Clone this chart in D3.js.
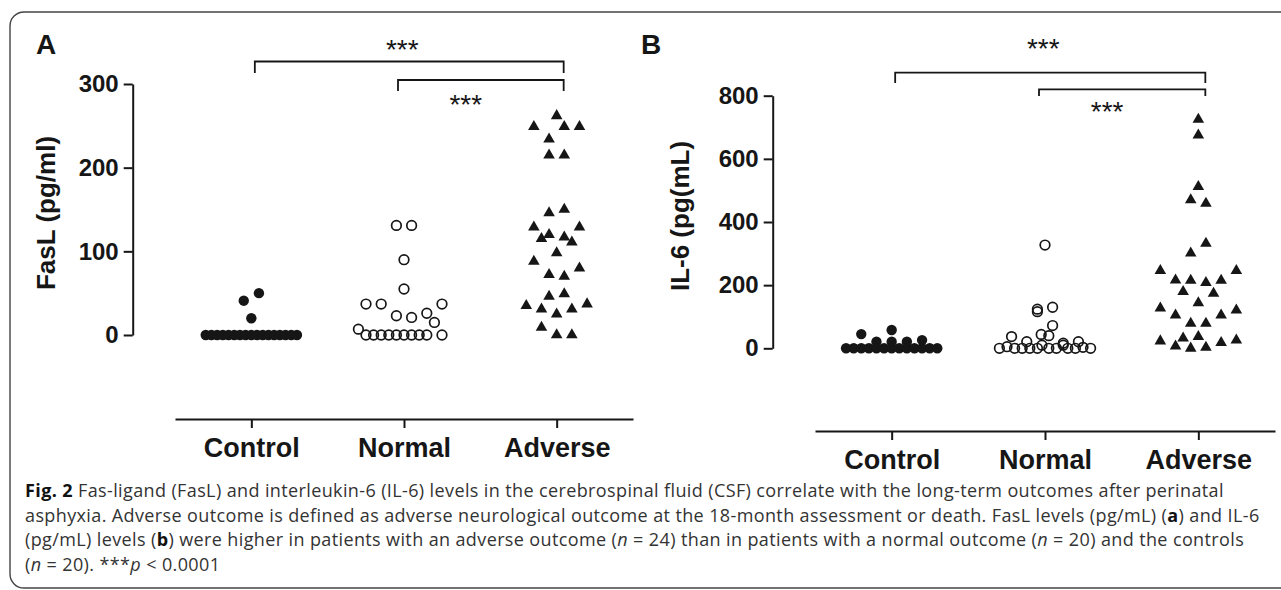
<!DOCTYPE html>
<html>
<head>
<meta charset="utf-8">
<script src="https://cdn.jsdelivr.net/npm/d3@7"></script>
<style>
  body { margin: 0; background: #fff; }
  svg text { font-family: "Liberation Sans", Arial, sans-serif; }
</style>
</head>
<body>
<svg id="fig" width="1281" height="590"></svg>
<script>
//////////////////////////////////////////////////////////////////////////////
// Data: each point is [value, column slot in the scatter]

var groups = ["Control", "Normal", "Adverse"];

var fasTicks = [0, 100, 200, 300];
var fasControl = [[50,1],[41,-1],[20,0],
    [0,-6],[0,-5.25],[0,-4.5],[0,-3.75],[0,-3],[0,-2.25],[0,-1.5],[0,-0.75],[0,0],
    [0,0.75],[0,1.5],[0,2.25],[0,3],[0,3.75],[0,4.5],[0,5.25],[0,6]];
var fasNormal = [[131,-1],[131,1],[90,0],[55,0],[37,-5],[37,-3],[37,5],[23,-1],[21,1],
    [26,3],[15,4],[7,-6],[0,-5],[0,-4],[0,-3],[0,-2],[0,-1],[0,0],[0,1],[0,2],[0,3],[0,5]];
var fasAdverse = [[262,0],[249,-3],[249,1],[249,3],[234,-1],[215,-1],[215,1],[150,1],
    [146,-1],[129,-3],[129,3],[120,-1],[115,-2],[117,1],[111,2],[98,0],[88,-3],[80,3],
    [72,-1],[70,1],[46,-1],[49,1],[35,-4],[31,-2],[25,0],[31,2],[37,4],[9,-2],[0,0],[0,2]];

var il6Ticks = [0, 200, 400, 600, 800];
var il6Control = [[45,-4],[58,0],[21,-2],[21,0],[21,2],[26,4],
    [0,-6],[0,-5],[0,-4],[0,-3],[0,-2],[0,-1],[0,0],[0,1],[0,2],[0,3],[0,4],[0,5],[0,6]];
var il6Normal = [[327,0],[130,1],[124,-1],[116,-1],[72,1],[44,-0.5],[40,0.5],[37,-4.4],
    [21,-2.4],[16,2.4],[21,4.4],[10,-0.4],[10,2.4],[5,-5],[3,5],
    [0,-6],[0,-4],[0,-3],[0,-2],[0,-1],[0,0.5],[0,1.5],[0,3],[0,4],[0,6]];
var il6Adverse = [[725,0],[675,0],[512,0],[470,-1],[459,1],[332,1],[301,-1],[246,-5],
    [246,5],[216,-3],[215,-1],[208,1],[215,3],[179,-2],[174,2],[144,0],[127,-5],[105,-3],
    [105,3],[121,5],[79,-1],[79,1],[23,-5],[32,-2],[37,0],[7,-3],[0,-1],[3,1],[18,3],[26,5]];

// significance brackets: [from, to, label]
var fasSig = [["Control", "Adverse", "***"], ["Normal", "Adverse", "***"]];
var il6Sig = [["Control", "Adverse", "***"], ["Normal", "Adverse", "***"]];

//////////////////////////////////////////////////////////////////////////////

var svg = d3.select("#fig");
var ink = "#161616";

svg.append("rect")
    .attr("x", 10).attr("y", 12)
    .attr("width", 1300).attr("height", 576)
    .attr("rx", 14)
    .attr("fill", "none")
    .attr("stroke", "#444")
    .attr("stroke-width", 1.4);

var panels = [
    { tag: "A", title: "FasL (pg/ml)", ticks: fasTicks, max: 300,
      series: [fasControl, fasNormal, fasAdverse], sig: fasSig,
      yAxisX: 132.7, yTop: 84, yBottom: 335, xLeft: 175, xRight: 633, xAxisY: 419,
      titleX: 55, titleY: 213, tagX: 36,
      sigY: [[61.5, 73, 43], [80, 91, 98]] },
    { tag: "B", title: "IL-6 (pg(mL)", ticks: il6Ticks, max: 800,
      series: [il6Control, il6Normal, il6Adverse], sig: il6Sig,
      yAxisX: 772.7, yTop: 95.7, yBottom: 348.3, xLeft: 815, xRight: 1275, xAxisY: 431,
      titleX: 689, titleY: 216, tagX: 641,
      sigY: [[72.7, 83, 42], [89.3, 96, 105]] }
];

// bracket end nudges (outer, inner) and label shift
var sigLeftNudge = [3.5, -6], sigRightNudge = 7, sigTextShift = [-7, -15];

var slot = d3.scaleLinear().domain([-1, 1]).range([-7.6, 7.6]);
var triangle = d3.symbol().type(d3.symbolTriangle).size(58);

panels.forEach(function(p) {
    var g = svg.append("g");
    var y = d3.scaleLinear().domain([0, p.max]).range([p.yBottom, p.yTop]);
    var x = d3.scalePoint().domain(groups).range([p.xLeft, p.xRight]).padding(0.5);

    // y axis
    var ya = g.append("g")
        .attr("transform", "translate(" + p.yAxisX + ",0)")
        .call(d3.axisLeft(y).tickValues(p.ticks).tickSize(9).tickSizeOuter(0).tickPadding(5));
    ya.selectAll("path, line").attr("stroke", ink).attr("stroke-width", 2);
    ya.selectAll("text")
        .attr("font-family", "Liberation Sans, Arial, sans-serif")
        .attr("font-weight", "bold").attr("font-size", 24).attr("fill", ink);

    // x axis
    var xa = g.append("g")
        .attr("transform", "translate(0," + p.xAxisY + ")")
        .call(d3.axisBottom(x).tickSize(9).tickSizeOuter(0).tickPadding(10));
    xa.selectAll("path, line").attr("stroke", ink).attr("stroke-width", 2);
    xa.selectAll("text")
        .attr("font-family", "Liberation Sans, Arial, sans-serif")
        .attr("font-weight", "bold").attr("font-size", 27).attr("fill", ink);

    // axis title
    g.append("text")
        .attr("transform", "translate(" + p.titleX + "," + p.titleY + ") rotate(-90)")
        .attr("text-anchor", "middle")
        .attr("font-weight", "bold").attr("font-size", 26).attr("fill", ink)
        .text(p.title);

    // panel tag
    g.append("text")
        .attr("x", p.tagX).attr("y", 54)
        .attr("font-weight", "bold").attr("font-size", 28).attr("fill", ink)
        .text(p.tag);

    // points
    var pts = g.append("g");
    pts.selectAll("circle.ctl")
        .data(p.series[0]).enter().append("circle")
        .attr("class", "ctl")
        .attr("cx", function(d) { return x(groups[0]) + slot(d[1]); })
        .attr("cy", function(d) { return y(d[0]); })
        .attr("r", 5.2)
        .attr("fill", ink);
    pts.selectAll("circle.nrm")
        .data(p.series[1]).enter().append("circle")
        .attr("class", "nrm")
        .attr("cx", function(d) { return x(groups[1]) + slot(d[1]); })
        .attr("cy", function(d) { return y(d[0]); })
        .attr("r", 4.8)
        .attr("fill", "none")
        .attr("stroke", ink)
        .attr("stroke-width", 1.7);
    pts.selectAll("path.adv")
        .data(p.series[2]).enter().append("path")
        .attr("class", "adv")
        .attr("d", triangle)
        .attr("transform", function(d) {
            return "translate(" + (x(groups[2]) + slot(d[1])) + "," + y(d[0]) + ")";
        })
        .attr("fill", ink);

    // significance brackets
    p.sig.forEach(function(s, i) {
        var x0 = x(s[0]) + sigLeftNudge[i], x1 = x(s[1]) + sigRightNudge;
        var lv = p.sigY[i];
        g.append("path")
            .attr("d", "M" + x0 + "," + lv[1] + "V" + lv[0] + "H" + x1 + "V" + lv[1])
            .attr("fill", "none")
            .attr("stroke", ink)
            .attr("stroke-width", 1.8);
        g.append("text")
            .attr("x", (x0 + x1) / 2 + sigTextShift[i])
            .attr("y", lv[2] + 16)
            .attr("text-anchor", "middle")
            .attr("font-size", 28).attr("fill", ink)
            .text(s[2]);
    });
});

//////////////////////////////////////////////////////////////////////////////
// caption

var capLines = [
    [["b", "Fig. 2"], ["", " Fas-ligand (FasL) and interleukin-6 (IL-6) levels in the cerebrospinal fluid (CSF) correlate with the long-term outcomes after perinatal"]],
    [["", "asphyxia. Adverse outcome is defined as adverse neurological outcome at the 18-month assessment or death. FasL levels (pg/mL) ("], ["b", "a"], ["", ") and IL-6"]],
    [["", "(pg/mL) levels ("], ["b", "b"], ["", ") were higher in patients with an adverse outcome ("], ["i", "n"], ["", " = 24) than in patients with a normal outcome ("], ["i", "n"], ["", " = 20) and the controls"]],
    [["", "("], ["i", "n"], ["", " = 20). ***"], ["i", "p"], ["", " < 0.0001"]]
];
var capBase = [497, 521.6, 546.2, 570.8];

var cap = svg.append("g")
    .attr("font-size", 18)
    .attr("letter-spacing", 0.38)
    .attr("fill", "#333");

capLines.forEach(function(line, i) {
    var t = cap.append("text")
        .attr("x", 25).attr("y", capBase[i])
        .style("font-family", "'Open Sans', sans-serif")
        .attr("xml:space", "preserve");
    line.forEach(function(seg) {
        t.append("tspan")
            .attr("font-weight", seg[0] === "b" ? "bold" : null)
            .attr("font-style", seg[0] === "i" ? "italic" : null)
            .attr("fill", seg[0] === "b" ? "#111" : null)
            .text(seg[1]);
    });
});
</script>
</body>
</html>
